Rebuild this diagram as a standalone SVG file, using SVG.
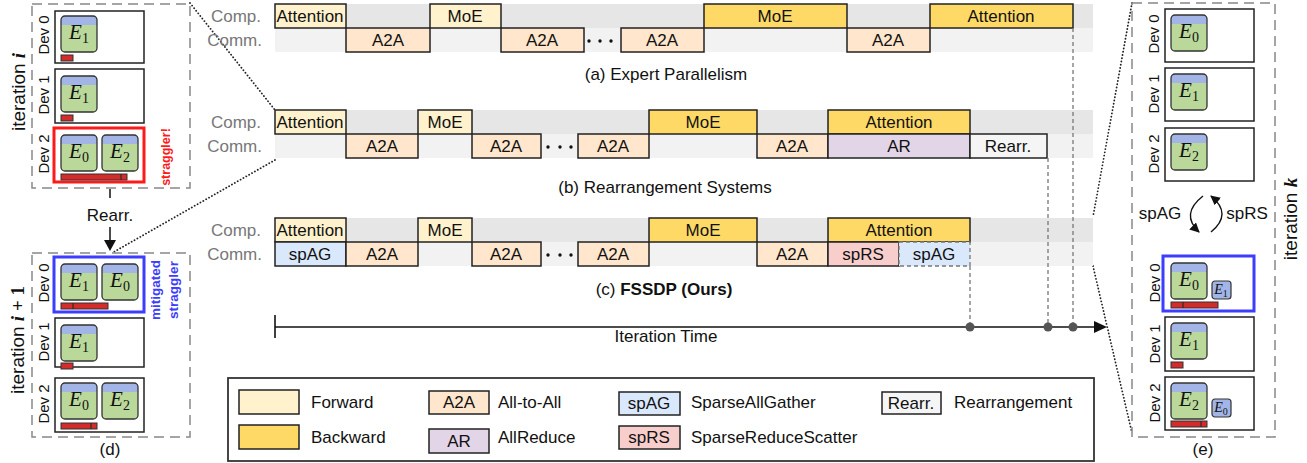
<svg xmlns="http://www.w3.org/2000/svg" xmlns:xlink="http://www.w3.org/1999/xlink" width="1307" height="463" viewBox="0 0 1307 463">
<style>
text{font-family:"Liberation Sans",Arial,sans-serif;fill:#111}
.t{font-size:17px;text-anchor:middle}
.lbl{font-size:17px;fill:#777;text-anchor:end}
.cap{font-size:17px;text-anchor:middle}
.leg{font-size:17px}
.dev{font-size:15px;text-anchor:middle}
.it{font-size:19px;text-anchor:middle}
.m{font-family:"Liberation Serif",serif;font-style:italic;font-weight:bold}
.e{font-family:"Liberation Serif",serif;font-style:italic;font-size:21px;text-anchor:middle}
.es{font-family:"Liberation Serif",serif;font-style:italic;font-size:14px;text-anchor:middle}
.sub{font-style:normal;font-size:14px}
.sub2{font-style:normal;font-size:10px}
.blk{stroke:#222;stroke-width:1.5}
.fwd{fill:#fff2cc}.bwd{fill:#ffd966}.a2a{fill:#ffe6cc}.ar{fill:#e1d5e7}.spag{fill:#dae8fc}.sprs{fill:#f8cecc}.rea{fill:#f5f5f5}
.bc{fill:#e6e6e6}.bm{fill:#f2f2f2}
.dev-box{fill:#fff;stroke:#222;stroke-width:1.5}
.panel{fill:none;stroke:#888;stroke-width:1.5;stroke-dasharray:10 6}
.bar{fill:#d42b2b;stroke:#333;stroke-width:1}
.vdash{stroke:#777;stroke-width:1.3;stroke-dasharray:4 3;fill:none}
.dot{stroke:#222;stroke-width:1.8;stroke-dasharray:0.1 3.2;stroke-linecap:round;fill:none}
</style>
<defs>
<g id="ex">
<rect width="36" height="36" rx="4" fill="#bad89a"/>
<path d="M0,9 V4 Q0,0 4,0 H32 Q36,0 36,4 V9 Z" fill="#a3b5e6"/>
<rect width="36" height="36" rx="4" fill="none" stroke="#333" stroke-width="1.3"/>
</g>
<g id="sx">
<rect width="19" height="18" rx="3" fill="#a3b5e6" stroke="#333" stroke-width="1.2"/>
</g>
<marker id="ah" viewBox="0 0 10 10" refX="9" refY="5" markerWidth="7" markerHeight="7" orient="auto-start-reverse">
<path d="M0,0 L10,5 L0,10 Z" fill="#111"/>
</marker>
</defs>

<!-- connectors -->
<g id="connectors">
<path class="dot" d="M190,3 L275,110"/>
<path class="dot" d="M275,160 L112,253"/>
<path class="dot" d="M1132,3 L1093,217"/>
<path class="dot" d="M1093,266 L1132,433"/>
<path d="M110,189 V198" stroke="#111" stroke-width="1.5"/>
<path d="M110,227 V244" stroke="#111" stroke-width="1.5"/>
<path d="M104,240 L110,251 L116,240 Z" fill="#111"/>
<path d="M1203,196 Q1180,214 1199,232" fill="none" stroke="#111" stroke-width="1.4" marker-end="url(#ah)"/>
<path d="M1211,232 Q1233,214 1211,196" fill="none" stroke="#111" stroke-width="1.4" marker-end="url(#ah)"/>
</g>

<!-- panel d -->
<g id="panel-d">
<rect class="panel" x="32" y="4" width="158" height="184"/>
<text class="it" transform="translate(25,92) rotate(-90)">iteration <tspan class="m">i</tspan></text>
<rect class="dev-box" x="55" y="11" width="89" height="52"/>
<text class="dev" transform="translate(49,35) rotate(-90)">Dev 0</text>
<use href="#ex" x="61" y="16"/><text class="e" x="79" y="39">E<tspan class="sub" dy="4">1</tspan></text>
<rect class="bar" x="61" y="55" width="12" height="6"/>
<rect class="dev-box" x="55" y="69" width="89" height="54"/>
<text class="dev" transform="translate(49,95) rotate(-90)">Dev 1</text>
<use href="#ex" x="61" y="76"/><text class="e" x="79" y="99">E<tspan class="sub" dy="4">1</tspan></text>
<rect class="bar" x="61" y="115" width="12" height="6"/>
<rect x="54" y="128" width="90" height="54" fill="#fff" stroke="#ff1a1a" stroke-width="3"/>
<text class="dev" transform="translate(49,154) rotate(-90)">Dev 2</text>
<use href="#ex" x="61" y="135"/><text class="e" x="79" y="158">E<tspan class="sub" dy="4">0</tspan></text>
<use href="#ex" x="102" y="135"/><text class="e" x="120" y="158">E<tspan class="sub" dy="4">2</tspan></text>
<rect class="bar" x="61" y="174" width="66" height="6"/>
<path d="M121,174 V180" stroke="#222" stroke-width="1"/>
<text transform="translate(170,157) rotate(-90)" style="font-size:12.5px;font-weight:bold;fill:#ff1a1a;text-anchor:middle">straggler!</text>
<text x="110" y="221" class="t">Rearr.</text>

<rect class="panel" x="32" y="253" width="158" height="184"/>
<text class="it" transform="translate(24,340) rotate(-90)">iteration <tspan class="m">i</tspan><tspan style="font-family:'Liberation Serif',serif;font-weight:bold"> + 1</tspan></text>
<rect x="54" y="257" width="90" height="55" fill="#fff" stroke="#3d3dff" stroke-width="3"/>
<text class="dev" transform="translate(49,283) rotate(-90)">Dev 0</text>
<use href="#ex" x="61" y="264"/><text class="e" x="79" y="287">E<tspan class="sub" dy="4">1</tspan></text>
<use href="#ex" x="102" y="264"/><text class="e" x="120" y="287">E<tspan class="sub" dy="4">0</tspan></text>
<rect class="bar" x="61" y="303" width="47" height="6"/>
<path d="M73,303 V309" stroke="#222" stroke-width="1"/>
<rect class="dev-box" x="55" y="318" width="89" height="49"/>
<text class="dev" transform="translate(49,342) rotate(-90)">Dev 1</text>
<use href="#ex" x="61" y="325"/><text class="e" x="79" y="348">E<tspan class="sub" dy="4">1</tspan></text>
<rect class="bar" x="61" y="363" width="12" height="6"/>
<rect class="dev-box" x="55" y="378" width="89" height="54"/>
<text class="dev" transform="translate(49,404) rotate(-90)">Dev 2</text>
<use href="#ex" x="61" y="383"/><text class="e" x="79" y="406">E<tspan class="sub" dy="4">0</tspan></text>
<use href="#ex" x="102" y="383"/><text class="e" x="120" y="406">E<tspan class="sub" dy="4">2</tspan></text>
<rect class="bar" x="61" y="423" width="36" height="6"/>
<path d="M91,423 V429" stroke="#222" stroke-width="1"/>
<text transform="translate(160,290) rotate(-90)" style="font-size:13.5px;font-weight:bold;fill:#3d3dff;text-anchor:middle">mitigated</text>
<text transform="translate(178,290) rotate(-90)" style="font-size:13.5px;font-weight:bold;fill:#3d3dff;text-anchor:middle">straggler</text>
<text x="110" y="455" class="t">(d)</text>
</g>

<!-- row a -->
<g id="row-a">
<rect class="bc" x="275" y="4" width="818" height="24"/>
<rect class="bm" x="275" y="28" width="818" height="24"/>
<text class="lbl" x="261" y="22">Comp.</text>
<text class="lbl" x="262" y="46">Comm.</text>
<rect class="blk fwd" x="275" y="4" width="71" height="24"/><text class="t" x="310" y="22">Attention</text>
<rect class="blk a2a" x="346" y="28" width="84" height="24"/><text class="t" x="388" y="46">A2A</text>
<rect class="blk fwd" x="430" y="4" width="71" height="24"/><text class="t" x="465" y="22">MoE</text>
<rect class="blk a2a" x="501" y="28" width="83" height="24"/><text class="t" x="542" y="46">A2A</text>
<circle cx="589" cy="41" r="1.7" fill="#111"/><circle cx="600" cy="41" r="1.7" fill="#111"/><circle cx="611" cy="41" r="1.7" fill="#111"/>
<rect class="blk a2a" x="621" y="28" width="83" height="24"/><text class="t" x="662" y="46">A2A</text>
<rect class="blk bwd" x="704" y="4" width="143" height="24"/><text class="t" x="775" y="22">MoE</text>
<rect class="blk a2a" x="847" y="28" width="83" height="24"/><text class="t" x="888" y="46">A2A</text>
<rect class="blk bwd" x="930" y="4" width="143" height="24"/><text class="t" x="1001" y="22">Attention</text>
<text class="cap" x="666" y="80">(a) Expert Parallelism</text>
</g>

<!-- row b -->
<g id="row-b">
<rect class="bc" x="275" y="110" width="818" height="24"/>
<rect class="bm" x="275" y="134" width="818" height="24"/>
<text class="lbl" x="261" y="128">Comp.</text>
<text class="lbl" x="262" y="152">Comm.</text>
<rect class="blk fwd" x="275" y="110" width="71" height="24"/><text class="t" x="310" y="128">Attention</text>
<rect class="blk a2a" x="346" y="134" width="72" height="24"/><text class="t" x="382" y="152">A2A</text>
<rect class="blk fwd" x="418" y="110" width="54" height="24"/><text class="t" x="445" y="128">MoE</text>
<rect class="blk a2a" x="472" y="134" width="69" height="24"/><text class="t" x="506" y="152">A2A</text>
<circle cx="548" cy="147" r="1.7" fill="#111"/><circle cx="560" cy="147" r="1.7" fill="#111"/><circle cx="571" cy="147" r="1.7" fill="#111"/>
<rect class="blk a2a" x="578" y="134" width="71" height="24"/><text class="t" x="613" y="152">A2A</text>
<rect class="blk bwd" x="649" y="110" width="108" height="24"/><text class="t" x="703" y="128">MoE</text>
<rect class="blk a2a" x="757" y="134" width="71" height="24"/><text class="t" x="792" y="152">A2A</text>
<rect class="blk bwd" x="828" y="110" width="142" height="24"/><text class="t" x="899" y="128">Attention</text>
<rect class="blk ar" x="828" y="134" width="142" height="24"/><text class="t" x="899" y="152">AR</text>
<rect class="blk rea" x="970" y="134" width="77" height="24"/><text class="t" x="1008" y="152">Rearr.</text>
<text class="cap" x="665" y="193">(b) Rearrangement Systems</text>
</g>

<!-- row c -->
<g id="row-c">
<rect class="bc" x="275" y="218" width="818" height="24"/>
<rect class="bm" x="275" y="242" width="818" height="24"/>
<text class="lbl" x="261" y="236">Comp.</text>
<text class="lbl" x="262" y="260">Comm.</text>
<rect class="blk fwd" x="275" y="218" width="71" height="24"/><text class="t" x="310" y="236">Attention</text>
<rect class="blk spag" x="275" y="242" width="71" height="24"/><text class="t" x="310" y="260">spAG</text>
<rect class="blk a2a" x="346" y="242" width="72" height="24"/><text class="t" x="382" y="260">A2A</text>
<rect class="blk fwd" x="418" y="218" width="54" height="24"/><text class="t" x="445" y="236">MoE</text>
<rect class="blk a2a" x="472" y="242" width="69" height="24"/><text class="t" x="506" y="260">A2A</text>
<circle cx="548" cy="255" r="1.7" fill="#111"/><circle cx="560" cy="255" r="1.7" fill="#111"/><circle cx="571" cy="255" r="1.7" fill="#111"/>
<rect class="blk a2a" x="578" y="242" width="71" height="24"/><text class="t" x="613" y="260">A2A</text>
<rect class="blk bwd" x="649" y="218" width="108" height="24"/><text class="t" x="703" y="236">MoE</text>
<rect class="blk a2a" x="757" y="242" width="71" height="24"/><text class="t" x="792" y="260">A2A</text>
<rect class="blk bwd" x="828" y="218" width="142" height="24"/><text class="t" x="899" y="236">Attention</text>
<rect class="blk sprs" x="828" y="242" width="71" height="24"/><text class="t" x="863" y="260">spRS</text>
<rect class="spag" x="899" y="242" width="71" height="24" stroke="#777" stroke-width="1.3" stroke-dasharray="4 3"/><text class="t" x="934" y="260">spAG</text>
<text class="cap" x="664" y="295">(c) <tspan style="font-weight:bold">FSSDP (Ours)</tspan></text>
</g>

<!-- time axis -->
<g id="time-axis">
<path class="vdash" d="M1073,28 V327"/>
<path class="vdash" d="M1048,158 V327"/>
<path class="vdash" d="M970,266 V327"/>
<path d="M275,327 H1097" stroke="#111" stroke-width="1.6"/>
<path d="M275,315 V338" stroke="#111" stroke-width="1.6"/>
<path d="M1107,327 L1094,321 L1094,333 Z" fill="#111"/>
<circle cx="970" cy="327" r="4.5" fill="#555"/>
<circle cx="1048" cy="327" r="4.5" fill="#555"/>
<circle cx="1073" cy="327" r="4.5" fill="#555"/>
<text class="cap" x="666" y="342">Iteration Time</text>
</g>

<!-- panel e -->
<g id="panel-e">
<rect class="panel" x="1132" y="3" width="143" height="434"/>
<text class="it" transform="translate(1297,219) rotate(-90)">iteration <tspan class="m">k</tspan></text>
<rect class="dev-box" x="1165" y="9" width="89" height="53"/>
<text class="dev" transform="translate(1159,34) rotate(-90)">Dev 0</text>
<use href="#ex" x="1171" y="15"/><text class="e" x="1189" y="38">E<tspan class="sub" dy="4">0</tspan></text>
<rect class="dev-box" x="1165" y="68" width="89" height="53"/>
<text class="dev" transform="translate(1159,94) rotate(-90)">Dev 1</text>
<use href="#ex" x="1171" y="74"/><text class="e" x="1189" y="97">E<tspan class="sub" dy="4">1</tspan></text>
<rect class="dev-box" x="1165" y="128" width="89" height="53"/>
<text class="dev" transform="translate(1159,154) rotate(-90)">Dev 2</text>
<use href="#ex" x="1171" y="134"/><text class="e" x="1189" y="157">E<tspan class="sub" dy="4">2</tspan></text>
<text class="t" x="1160" y="219">spAG</text>
<text class="t" x="1247" y="219">spRS</text>
<rect x="1163" y="256" width="91" height="55" fill="#fff" stroke="#3d3dff" stroke-width="3"/>
<text class="dev" transform="translate(1160,283) rotate(-90)">Dev 0</text>
<use href="#ex" x="1171" y="263"/><text class="e" x="1189" y="286">E<tspan class="sub" dy="4">0</tspan></text>
<use href="#sx" x="1212" y="281"/><text class="es" x="1221" y="294">E<tspan class="sub2" dy="3">1</tspan></text>
<rect class="bar" x="1171" y="302" width="47" height="6"/>
<path d="M1183,302 V308" stroke="#222" stroke-width="1"/>
<rect class="dev-box" x="1165" y="317" width="89" height="54"/>
<text class="dev" transform="translate(1160,344) rotate(-90)">Dev 1</text>
<use href="#ex" x="1171" y="323"/><text class="e" x="1189" y="346">E<tspan class="sub" dy="4">1</tspan></text>
<rect class="bar" x="1171" y="362" width="12" height="6"/>
<rect class="dev-box" x="1165" y="377" width="89" height="53"/>
<text class="dev" transform="translate(1160,403) rotate(-90)">Dev 2</text>
<use href="#ex" x="1171" y="383"/><text class="e" x="1189" y="406">E<tspan class="sub" dy="4">2</tspan></text>
<use href="#sx" x="1212" y="399"/><text class="es" x="1221" y="412">E<tspan class="sub2" dy="3">0</tspan></text>
<rect class="bar" x="1171" y="421" width="36" height="6"/>
<path d="M1201,421 V427" stroke="#222" stroke-width="1"/>
<text x="1203" y="455" class="t">(e)</text>
</g>

<!-- legend -->
<g id="legend">
<rect x="228" y="378" width="866" height="83" fill="#fff" stroke="#333" stroke-width="1.8"/>
<rect class="blk fwd" x="239" y="390" width="60" height="24"/><text class="leg" x="311" y="408">Forward</text>
<rect class="blk bwd" x="239" y="425" width="60" height="24"/><text class="leg" x="311" y="443">Backward</text>
<rect class="blk a2a" x="429" y="391" width="60" height="23"/><text class="t" x="459" y="408">A2A</text><text class="leg" x="498" y="408">All-to-All</text>
<rect class="blk ar" x="429" y="429" width="60" height="24"/><text class="t" x="459" y="447">AR</text><text class="leg" x="498" y="443">AllReduce</text>
<rect class="blk spag" x="619" y="392" width="61" height="23"/><text class="t" x="649" y="409">spAG</text><text class="leg" x="691" y="408">SparseAllGather</text>
<rect class="blk sprs" x="619" y="426" width="61" height="23"/><text class="t" x="649" y="443">spRS</text><text class="leg" x="691" y="443">SparseReduceScatter</text>
<rect class="blk rea" x="882" y="392" width="59" height="22"/><text class="t" x="911" y="409">Rearr.</text><text class="leg" x="954" y="408">Rearrangement</text>
</g>
</svg>
